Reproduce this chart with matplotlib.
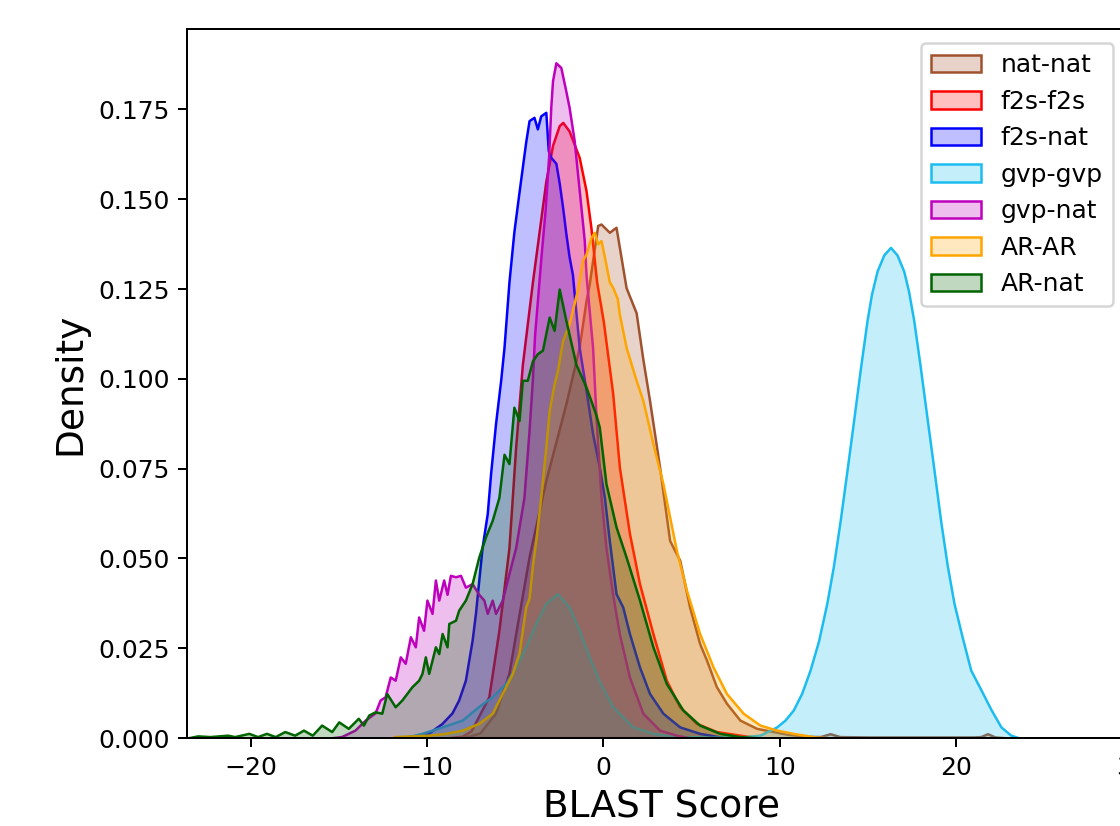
import matplotlib
matplotlib.use("Agg")
import matplotlib.pyplot as plt

# series names in legend / drawing order
labels = ["nat-nat", "f2s-f2s", "f2s-nat", "gvp-gvp", "gvp-nat", "AR-AR", "AR-nat"]
colors = ["sienna", "red", "blue", "#1bbdf0", "m", "orange", "darkgreen"]

# density curves (x = BLAST score, y = density)
natnat_x = [-8.0, -7.0, -6.1, -5.35, -4.97, -4.21, -3.26, -2.12, -1.37, -0.98, -0.80, -0.32, -0.13,
            0.34, 0.72, 1.29, 1.86, 2.24, 2.62, 3.19, 3.76, 4.33, 4.89, 5.46, 5.85, 6.41, 6.98,
            7.74, 8.69, 9.64, 10.5, 11.5, 12.3, 12.86, 13.4, 15.0, 17.0, 19.0, 21.0, 21.4, 21.78,
            22.2, 23.0]
natnat_y = [0.0, 0.0014, 0.007, 0.018, 0.029, 0.0504, 0.0717, 0.0931, 0.1088, 0.1218, 0.1264,
            0.1427, 0.1431, 0.1408, 0.1422, 0.1254, 0.1184, 0.1055, 0.094, 0.0754, 0.055, 0.0495,
            0.0365, 0.0263, 0.0217, 0.0143, 0.0097, 0.005, 0.0027, 0.0018, 0.001, 0.0005, 0.0004,
            0.0012, 0.0004, 0.0003, 0.0003, 0.0003, 0.0003, 0.0004, 0.0012, 0.0003, 0.0]

f2sf2s_x = [-9.0, -8.0, -7.5, -6.49, -5.92, -5.35, -4.97, -4.59, -4.02, -3.64, -3.26, -2.88, -2.5,
            -2.3, -1.94, -1.37, -0.98, -0.70, -0.38, 0.0, 0.53, 0.91, 1.48, 2.05, 2.81, 3.57,
            4.33, 5.28, 6.41, 7.74, 9.0]
f2sf2s_y = [0.0, 0.0005, 0.002, 0.0115, 0.030, 0.053, 0.081, 0.104, 0.127, 0.141, 0.155, 0.165,
            0.1705, 0.1714, 0.169, 0.1617, 0.1524, 0.142, 0.127, 0.116, 0.096, 0.0754, 0.057,
            0.043, 0.0291, 0.0161, 0.0087, 0.0041, 0.0018, 0.0008, 0.0]

f2snat_x = [-11.0, -9.9, -9.16, -8.58, -8.2, -7.82, -7.44, -7.25, -7.06, -6.87, -6.58, -6.39,
            -6.11, -5.82, -5.63, -5.35, -5.07, -4.78, -4.4, -4.21, -3.93, -3.74, -3.55, -3.26,
            -3.12, -2.98, -2.69, -2.5, -2.31, -2.12, -1.94, -1.75, -1.37, -0.98, -0.61, -0.23,
            0.06, 0.34, 0.72, 1.1, 1.48, 2.05, 2.62, 3.38, 4.33, 5.46, 7.0]
f2snat_y = [0.0, 0.0014, 0.004, 0.007, 0.0106, 0.0161, 0.0272, 0.0347, 0.044, 0.0532, 0.0625,
            0.0737, 0.0876, 0.0996, 0.1088, 0.127, 0.141, 0.152, 0.166, 0.1719, 0.1728, 0.1696,
            0.1732, 0.1742, 0.1635, 0.1617, 0.160, 0.1545, 0.1478, 0.1403, 0.134, 0.129, 0.1088,
            0.0968, 0.0848, 0.0755, 0.067, 0.055, 0.0402, 0.0365, 0.0291, 0.0198, 0.0124, 0.0069,
            0.0031, 0.0013, 0.0]

gvpgvp_x = [-12.0, -11.04, -10.28, -9.14, -8.0, -7.06, -6.3, -5.54, -4.97, -4.4, -3.83, -3.26,
            -2.6, -1.94, -1.37, -0.8, -0.2, 0.53, 1.67, 2.81, 4.0, 6.0, 8.0, 8.88, 9.83, 10.3,
            10.77, 11.25, 11.72, 12.2, 12.67, 13.05, 13.43, 13.8, 14.19, 14.55, 14.95, 15.2,
            15.52, 15.9, 16.28, 16.65, 17.03, 17.3, 17.6, 17.95, 18.37, 18.75, 19.12, 19.5,
            19.88, 20.35, 20.83, 21.4, 21.97, 22.54, 23.1, 23.6]
gvpgvp_y = [0.0, 0.0004, 0.0013, 0.0031, 0.005, 0.0088, 0.0115, 0.0152, 0.0198, 0.0254, 0.0319,
            0.0375, 0.0402, 0.0365, 0.030, 0.0226, 0.0155, 0.0087, 0.0031, 0.0013, 0.0005, 0.0002,
            0.0004, 0.0008, 0.0031, 0.0050, 0.0078, 0.0125, 0.0189, 0.027, 0.0375, 0.048, 0.0606,
            0.074, 0.0884, 0.102, 0.1162, 0.1235, 0.130, 0.1345, 0.1366, 0.1345, 0.130, 0.1245,
            0.1162, 0.104, 0.0884, 0.0745, 0.0606, 0.048, 0.0375, 0.028, 0.0189, 0.0135, 0.0080,
            0.0031, 0.0008, 0.0]

gvpnat_x = [-15.5, -14.85, -14.08, -13.5, -12.94, -12.65, -12.37, -12.08, -11.8, -11.51, -11.23,
            -10.94, -10.66, -10.47, -10.19, -10.0, -9.71, -9.52, -9.33, -9.05, -8.86, -8.67,
            -8.38, -8.1, -7.82, -7.44, -7.06, -6.77, -6.58, -6.3, -6.11, -5.73, -5.35, -4.97,
            -4.5, -4.21, -4.02, -3.9, -3.7, -3.5, -3.3, -3.1, -2.98, -2.88, -2.69, -2.41, -2.12,
            -1.94, -1.65, -1.46, -1.27, -1.08, -0.98, -0.8, -0.61, -0.42, -0.13, 0.15, 0.53,
            0.91, 1.48, 2.24, 3.19, 4.14, 5.0]
gvpnat_y = [0.0, 0.0004, 0.0022, 0.005, 0.007, 0.0106, 0.0115, 0.017, 0.0161, 0.0226, 0.0208,
            0.0282, 0.0254, 0.0337, 0.030, 0.0384, 0.0347, 0.044, 0.0384, 0.044, 0.040, 0.0453,
            0.0449, 0.0453, 0.042, 0.043, 0.040, 0.0384, 0.0347, 0.0384, 0.0347, 0.0384, 0.0458,
            0.053, 0.067, 0.0857, 0.100, 0.112, 0.124, 0.136, 0.147, 0.162, 0.1756, 0.183, 0.188,
            0.1867, 0.180, 0.1756, 0.1663, 0.157, 0.1478, 0.1385, 0.129, 0.119, 0.1088, 0.090,
            0.067, 0.053, 0.040, 0.029, 0.017, 0.0069, 0.0022, 0.0008, 0.0]

arar_x = [-12.0, -11.8, -9.9, -8.95, -8.0, -7.06, -6.3, -5.92, -5.54, -5.16, -4.78, -4.4, -4.21,
          -4.02, -3.83, -3.55, -3.26, -3.07, -2.79, -2.6, -2.31, -1.94, -1.46, -1.18, -0.98,
          -0.70, -0.51, -0.32, -0.13, 0.06, 0.34, 0.53, 0.79, 0.91, 1.29, 1.86, 2.24, 2.81,
          3.38, 4.14, 4.71, 5.46, 6.22, 6.98, 7.93, 8.88, 9.83, 10.77, 12.0, 13.0]
arar_y = [0.0, 0.0004, 0.0008, 0.0013, 0.0022, 0.0041, 0.0069, 0.0106, 0.0143, 0.018, 0.0236,
          0.0365, 0.039, 0.048, 0.055, 0.067, 0.081, 0.0912, 0.0986, 0.1023, 0.1107, 0.1153,
          0.1250, 0.133, 0.1348, 0.1394, 0.1408, 0.1376, 0.1385, 0.134, 0.127, 0.1255, 0.1224,
          0.118, 0.1088, 0.0996, 0.094, 0.082, 0.0708, 0.0523, 0.0412, 0.0291, 0.0198, 0.0124,
          0.0069, 0.0036, 0.0022, 0.0013, 0.0003, 0.0]

arnat_x = [-23.6, -23.0, -22.3, -21.3, -20.9, -20.1, -19.6, -19.1, -18.6, -18.06, -17.5, -17.0,
           -16.5, -15.97, -15.4, -15.0, -14.46, -13.89, -13.6, -13.3, -12.94, -12.56, -12.28,
           -11.8, -11.42, -10.85, -10.47, -10.28, -10.09, -9.9, -9.52, -9.33, -9.14, -8.86,
           -8.76, -8.38, -8.2, -7.82, -7.44, -7.06, -6.68, -6.3, -5.92, -5.63, -5.35, -5.07,
           -4.78, -4.59, -4.31, -4.02, -3.74, -3.45, -3.07, -2.79, -2.5, -2.12, -1.55, -0.98,
           -0.42, -0.23, 0.15, 0.72, 1.29, 2.05, 2.81, 3.57, 4.51, 5.46, 6.6, 7.74, 9.0]
arnat_y = [0.0, 0.0006, 0.0004, 0.0008, 0.0004, 0.0013, 0.0004, 0.0013, 0.0004, 0.0018, 0.0008,
           0.0022, 0.0008, 0.0036, 0.0018, 0.0045, 0.0027, 0.0055, 0.0036, 0.0064, 0.0073,
           0.0069, 0.0124, 0.0087, 0.0106, 0.0143, 0.0161, 0.018, 0.0226, 0.018, 0.0254, 0.0235,
           0.0291, 0.0254, 0.0319, 0.0328, 0.0356, 0.0384, 0.043, 0.0504, 0.056, 0.0606, 0.067,
           0.079, 0.0764, 0.0921, 0.0884, 0.0996, 0.0996, 0.105, 0.107, 0.108, 0.1172, 0.1135,
           0.125, 0.1162, 0.104, 0.0977, 0.090, 0.0866, 0.0708, 0.0588, 0.0504, 0.0384, 0.0254,
           0.0152, 0.0078, 0.0036, 0.0013, 0.0004, 0.0]

series_x = [natnat_x, f2sf2s_x, f2snat_x, gvpgvp_x, gvpnat_x, arar_x, arnat_x]
series_y = [natnat_y, f2sf2s_y, f2snat_y, gvpgvp_y, gvpnat_y, arar_y, arnat_y]

fig = plt.figure(figsize=(1120 / 180, 826 / 180), dpi=180)
# axes runs past the right edge of the picture, as in the reference crop
ax = fig.add_axes([0.1670, 0.1065, 0.8473, 0.8584])

for xs, ys, c, lab in zip(series_x, series_y, colors, labels):
    ax.fill_between(xs, ys, facecolor=matplotlib.colors.to_rgba(c, 0.25),
                    edgecolor=c, linewidth=1.0, label=lab)

ax.set_xlim(-23.6, 30.2)
ax.set_ylim(0, 0.1974)
ax.set_yticks([0.0, 0.025, 0.05, 0.075, 0.1, 0.125, 0.15, 0.175])
ax.set_xlabel("BLAST Score", fontsize=15)
ax.set_ylabel("Density", fontsize=15)

ax.legend(loc="upper left", bbox_to_anchor=(0.8221, 0.9479),
          bbox_transform=fig.transFigure, borderaxespad=0)

fig.savefig("out.png", dpi=180)
